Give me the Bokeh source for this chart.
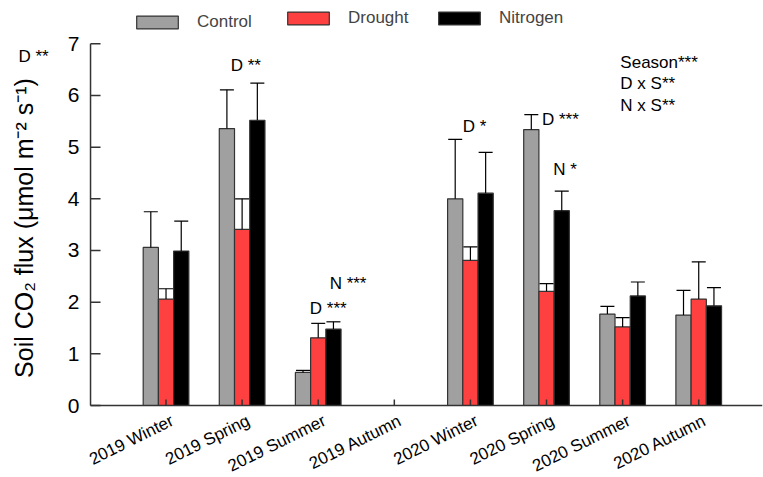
import math
from bokeh.plotting import figure
from bokeh.models import (Range1d, Whisker, TeeHead, Legend,
                          LegendItem, Label, ColumnDataSource)
from bokeh.core.properties import value
from bokeh.embed import file_html
from bokeh.resources import INLINE

nan = float("nan")

categories = ["2019 Winter", "2019 Spring", "2019 Summer", "2019 Autumn",
              "2020 Winter", "2020 Spring", "2020 Summer", "2020 Autumn"]
series_names = ["Control", "Drought", "Nitrogen"]

control_mean = [3.06, 5.36, 0.64, nan, 4.00, 5.34, 1.77, 1.75]
control_se = [0.69, 0.75, 0.04, nan, 1.15, 0.29, 0.15, 0.48]
drought_mean = [2.06, 3.41, 1.31, nan, 2.81, 2.21, 1.52, 2.06]
drought_se = [0.20, 0.59, 0.28, nan, 0.26, 0.15, 0.18, 0.72]
nitrogen_mean = [2.99, 5.52, 1.48, nan, 4.11, 3.77, 2.12, 1.93]
nitrogen_se = [0.58, 0.72, 0.14, nan, 0.79, 0.38, 0.27, 0.35]

y_ticks = [0, 1, 2, 3, 4, 5, 6, 7]
y_label = "Soil CO\u2082 flux (\u03bcmol m\u207b\u00b2 s\u207b\u00b9)"

# significance annotations: (x in category units, y value, text)
annotations = [
    (0.85, 6.58, "D **"),
    (2.15, 2.37, "N ***"),
    (1.89, 1.88, "D ***"),
    (3.90, 5.39, "D *"),
    (4.94, 5.53, "D ***"),
    (5.09, 4.57, "N *"),
    (5.97, 6.64, "Season***"),
    (5.97, 6.225, "D x S**"),
    (5.97, 5.81, "N x S**"),
    (-1.94, 6.75, "D **"),
]

colors = ["#a0a0a0", "#ff4040", "#000000"]
offsets = [-0.2, 0.0, 0.2]
bar_w = 0.2
FONT = "Liberation Sans"
AX_COL = "#333333"

X_START, X_END = -2.175, 7.838   # canvas edges, in category units
Y_START, Y_END = -1.393, 7.838   # canvas edges, in flux units
Y_AXIS_X = -0.992                # where the value axis sits
Y_MAX = 7
LABEL_DX, LABEL_DY = 0.085, -0.27   # end of each category label vs its tick
LABEL_ANGLE = math.radians(26.5)

p = figure(width=763, height=477, output_backend="svg", toolbar_location=None,
           x_range=Range1d(X_START, X_END), y_range=Range1d(Y_START, Y_END),
           x_axis_location=None, y_axis_location=None,
           min_border_left=0, min_border_right=1, min_border_top=0,
           min_border_bottom=0)
p.grid.visible = False
p.outline_line_color = None
p.background_fill_color = "white"

means = [control_mean, drought_mean, nitrogen_mean]
ses = [control_se, drought_se, nitrogen_se]
renderers = []
for name, m, s, c, off in zip(series_names, means, ses, colors, offsets):
    xs, tops, ups = [], [], []
    for i, (mv, sv) in enumerate(zip(m, s)):
        if mv == mv:
            xs.append(i + off)
            tops.append(mv)
            ups.append(mv + sv)
    src = ColumnDataSource(dict(x=xs, top=tops, upper=ups))
    r = p.vbar(x="x", top="top", width=bar_w, source=src, fill_color=c,
               line_color=AX_COL, line_width=1.2)
    w = Whisker(source=src, base="x", upper="upper", lower="top",
                dimension="height", line_color="black", line_width=1.2,
                upper_head=TeeHead(size=14, line_color="black", line_width=1.2),
                lower_head=None, level="glyph")
    p.add_layout(w)
    renderers.append(r)

leg_kw = dict(orientation="horizontal", glyph_width=52, glyph_height=16,
              label_width=70, label_standoff=14, spacing=15, padding=0, margin=0,
              border_line_color=None, background_fill_alpha=0,
              label_text_font=FONT, label_text_font_size="17px", label_height=16)
leg1 = Legend(items=[LegendItem(label=series_names[0], renderers=[renderers[0]])],
              location=(131, 445), **leg_kw)
leg2 = Legend(items=[LegendItem(label=n, renderers=[r])
                     for n, r in zip(series_names[1:], renderers[1:])],
              location=(282, 449), **leg_kw)
p.add_layout(leg1)
p.add_layout(leg2)

for (ax, ay, txt) in annotations:
    p.add_layout(Label(x=ax, y=ay, text=txt, text_font=FONT, text_font_size="17px",
                       text_align="left", text_baseline="middle", text_color="black"))

# value axis, drawn by hand
p.segment(x0=[Y_AXIS_X], y0=[0], x1=[Y_AXIS_X], y1=[Y_MAX],
          line_color=AX_COL, line_width=1.5)
p.ray(x=[Y_AXIS_X] * len(y_ticks), y=y_ticks, length=10, length_units="screen",
      angle=0, line_color=AX_COL, line_width=1.5)
p.text(x=[Y_AXIS_X] * len(y_ticks), y=y_ticks, text=[str(t) for t in y_ticks],
       x_offset=-11, text_align="right", text_baseline="middle",
       text_font=value(FONT), text_font_size="21px", text_color="black")
p.text(x=[X_START], y=[3.435], text=[y_label], x_offset=23, angle=math.pi / 2,
       text_align="center", text_baseline="middle",
       text_font=value(FONT), text_font_size="25px", text_color="black")

# category axis, drawn by hand
cat_pos = list(range(len(categories)))
p.segment(x0=[Y_AXIS_X], y0=[0], x1=[X_END], y1=[0],
          line_color=AX_COL, line_width=1.5)
p.ray(x=cat_pos, y=[0] * len(cat_pos), length=6, length_units="screen",
      angle=math.pi / 2, line_color=AX_COL, line_width=1.5)
p.text(x=[c + LABEL_DX for c in cat_pos], y=[LABEL_DY] * len(cat_pos),
       text=categories, angle=LABEL_ANGLE,
       text_align="right", text_baseline="alphabetic",
       text_font=value(FONT), text_font_size="17px", text_color="black")

open("out.html", "w").write(file_html(p, INLINE))
